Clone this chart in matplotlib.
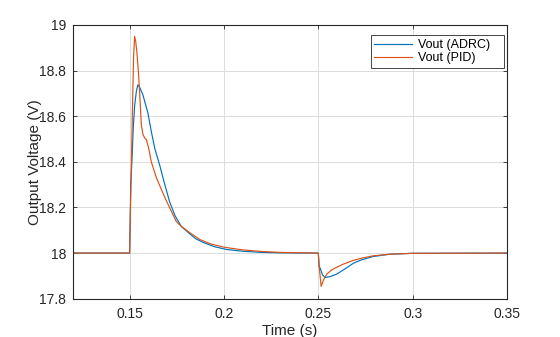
import matplotlib
matplotlib.use("Agg")
import matplotlib.pyplot as plt

plt.rcParams['font.family'] = ['Liberation Sans', 'DejaVu Sans']

# Vout (ADRC)
t_adrc = [0.12, 0.1500, 0.1506, 0.1512, 0.1520, 0.1527, 0.1536, 0.1544, 0.1551,
          0.1559, 0.1570, 0.1580, 0.1597, 0.1615, 0.1633, 0.1659, 0.1680, 0.1712,
          0.1740, 0.1774, 0.1818, 0.1850, 0.1889, 0.1950, 0.2013, 0.21, 0.22,
          0.23, 0.2500, 0.2504, 0.2510, 0.2515, 0.2522, 0.2536, 0.2563, 0.2598,
          0.2642, 0.2687, 0.2731, 0.2791, 0.2879, 0.30, 0.35]
v_adrc = [18.0, 18.0, 18.30, 18.40, 18.56, 18.65, 18.71, 18.738, 18.73,
          18.716, 18.695, 18.665, 18.614, 18.533, 18.46, 18.387, 18.32, 18.225,
          18.165, 18.117, 18.085, 18.063, 18.047, 18.028, 18.016, 18.008, 18.003,
          18.001, 18.0, 17.94, 17.934, 17.922, 17.905, 17.893, 17.897, 17.908,
          17.931, 17.956, 17.971, 17.985, 17.995, 17.999, 18.0]

# Vout (PID)
t_pid = [0.12, 0.1500, 0.1507, 0.1514, 0.1521, 0.15265, 0.1532, 0.1539, 0.1546,
         0.1553, 0.1562, 0.1571, 0.1580, 0.1589, 0.1601, 0.1615, 0.1642, 0.1686,
         0.1720, 0.1748, 0.1774, 0.1818, 0.1871, 0.1930, 0.1995, 0.2031, 0.21,
         0.22, 0.23, 0.2500, 0.2506, 0.2515, 0.2528, 0.2545, 0.2572, 0.2625,
         0.2678, 0.2731, 0.2791, 0.2879, 0.30, 0.35]
v_pid = [18.0, 18.0, 18.29, 18.585, 18.86, 18.95, 18.93, 18.877, 18.80,
         18.709, 18.563, 18.519, 18.505, 18.497, 18.46, 18.40, 18.33, 18.245,
         18.185, 18.138, 18.117, 18.090, 18.060, 18.040, 18.027, 18.022, 18.014,
         18.007, 18.003, 18.0, 17.93, 17.854, 17.883, 17.908, 17.927, 17.949,
         17.966, 17.978, 17.988, 17.995, 17.999, 18.0]

x_ticks = [0.15, 0.2, 0.25, 0.3, 0.35]
x_tick_labels = ['0.15', '0.2', '0.25', '0.3', '0.35']
y_ticks = [17.8, 18.0, 18.2, 18.4, 18.6, 18.8, 19.0]
y_tick_labels = ['17.8', '18', '18.2', '18.4', '18.6', '18.8', '19']

fig = plt.figure(figsize=(5.6, 3.37), dpi=100)
ax = fig.add_axes([73 / 560, 1 - 298.7 / 337, 434 / 560, 273.7 / 337])

ax.plot(t_adrc, v_adrc, color='#0072BD', lw=0.85, label='Vout (ADRC)   ')
ax.plot(t_pid, v_pid, color='#D95319', lw=0.85, label='Vout (PID)')

ax.set_xlim(0.12, 0.35)
ax.set_ylim(17.8, 19.0)
ax.set_xticks(x_ticks)
ax.set_xticklabels(x_tick_labels)
ax.set_yticks(y_ticks)
ax.set_yticklabels(y_tick_labels)

ax.grid(True, color='#dcdcdc', lw=0.7)
ax.set_axisbelow(True)
for s in ax.spines.values():
    s.set_color('#262626')
    s.set_linewidth(0.8)
ax.tick_params(direction='in', length=3, width=0.6, colors='#262626',
               labelsize=10, top=True, right=True, pad=6)
ax.tick_params(axis='y', pad=5)

ax.set_xlabel('Time (s)', fontsize=11, color='#262626', labelpad=2)
ax.set_ylabel('Output Voltage (V)', fontsize=11, color='#262626', labelpad=-2)

leg = ax.legend(loc='upper right', bbox_to_anchor=(0.993, 0.963), borderaxespad=0,
                fontsize=9, fancybox=False, edgecolor='#262626', framealpha=1,
                handlelength=3.0, handletextpad=0.45, labelspacing=0.1,
                borderpad=0.3)
leg.get_frame().set_linewidth(0.6)

fig.savefig('out.png', dpi=100)
